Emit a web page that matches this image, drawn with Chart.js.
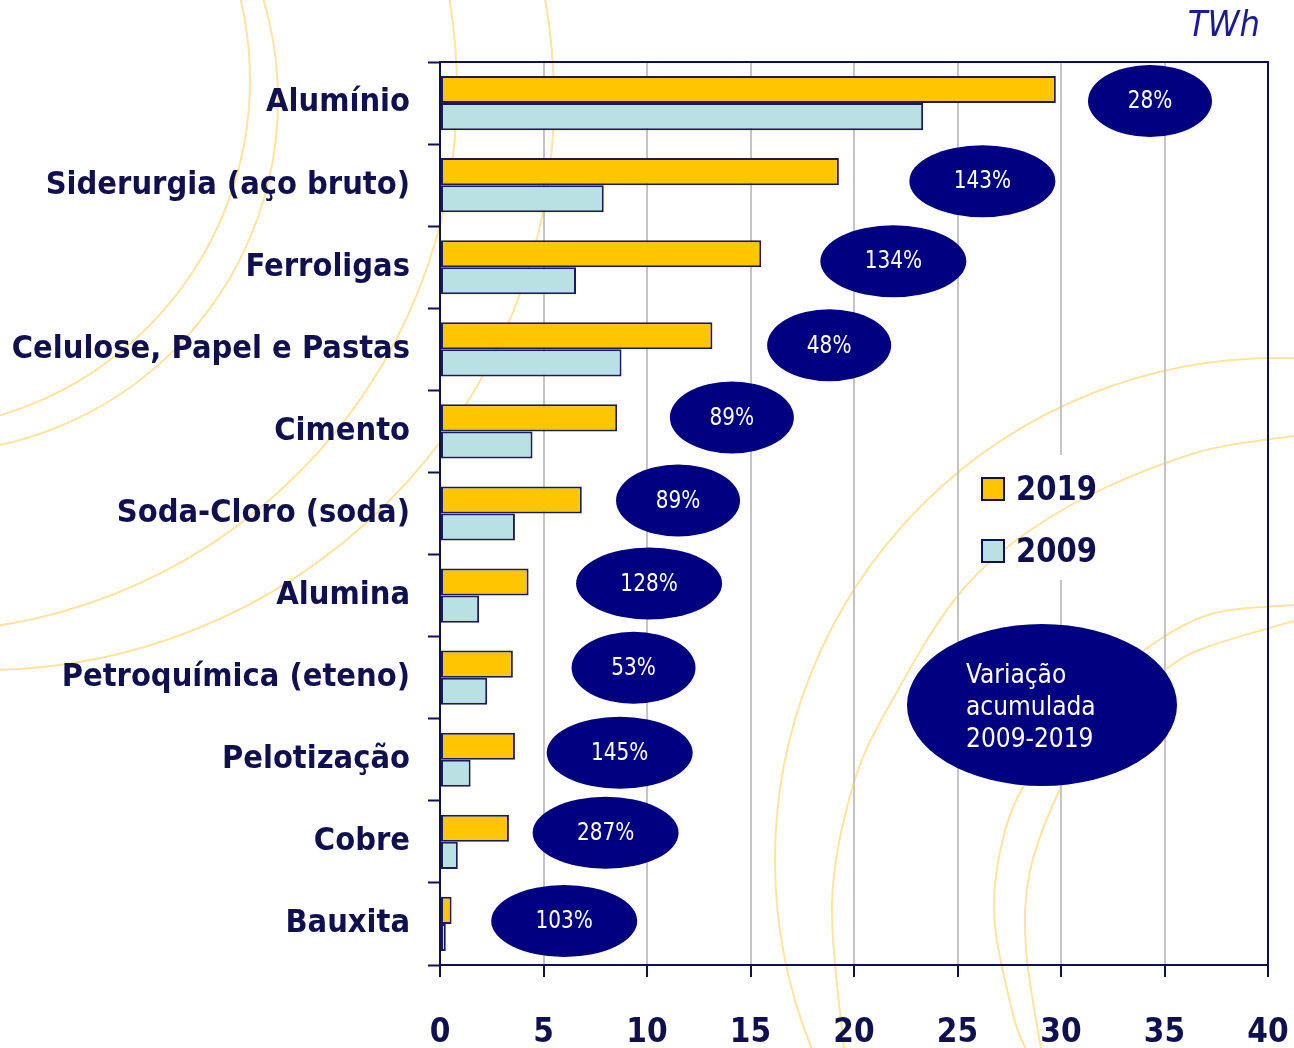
<!DOCTYPE html>
<html lang="pt">
<head>
<meta charset="utf-8">
<title>Consumo de eletricidade - indústria eletrointensiva</title>
<script src="https://cdn.jsdelivr.net/npm/chart.js@4.4.1/dist/chart.umd.min.js"></script>
<style>
    html, body { margin: 0; padding: 0; background: #ffffff; }
    #grafico { display: block; }
</style>
</head>
<body>
<canvas id="grafico" width="1294" height="1048"></canvas>
<script>
// dados (TWh)
const categorias = ['Alumínio', 'Siderurgia (aço bruto)', 'Ferroligas', 'Celulose, Papel e Pastas', 'Cimento',
    'Soda-Cloro (soda)', 'Alumina', 'Petroquímica (eteno)', 'Pelotização', 'Cobre', 'Bauxita'];
const consumo2019 = [29.75, 19.27, 15.52, 13.16, 8.56, 6.85, 4.28, 3.52, 3.62, 3.33, 0.56];
const consumo2009 = [23.34, 7.91, 6.57, 8.77, 4.47, 3.62, 1.89, 2.28, 1.48, 0.86, 0.28];
const variacao = ['28%', '143%', '134%', '48%', '89%', '89%', '128%', '53%', '145%', '287%', '103%'];
const anos = ['2019', '2009'];

// onde ficam os balões de variação (x em TWh, deslocamento vertical em px)
const baloesX = [34.3, 26.2, 21.9, 18.8, 14.1, 11.5, 10.1, 9.35, 8.68, 8.0, 6.0];
const baloesDy = [-2, -4, -6, -4, -14, -13, -12, -10, -7, -9, -3];

const AZUL = '#101050';
const MARINHO = '#000080';
const AMARELO = '#FFC600';
const AZUL_CLARO = '#B9E0E3';
const ARCO = '#FFE3A0';
const FONTE = "'DejaVu Sans Condensed', 'DejaVu Sans', sans-serif";

// arcos decorativos do fundo
function desenharArcos(ctx) {
    ctx.save();
    ctx.strokeStyle = ARCO;
    ctx.lineWidth = 2;
    [[-100, 80, 350], [-75, 100, 353], [-85, 90, 542], [-16, 100, 570], [1277, 860, 502]].forEach(([cx, cy, r]) => {
        ctx.beginPath();
        ctx.arc(cx, cy, r, 0, Math.PI * 2);
        ctx.stroke();
    });
    const curvas = [
        [[1294, 436], [1192, 454], [1064, 509], [965, 587], [889, 706], [852, 789], [832, 903], [844, 1049]],
        [[1294, 605], [1211, 614], [1143, 651], [1080, 710], [1022, 789], [999, 857], [995, 926], [1014, 1018], [1026, 1049]],
        [[1294, 621], [1207, 647], [1166, 669], [1100, 720], [1060, 789], [1030, 871], [1026, 949], [1041, 1049]]
    ];
    curvas.forEach(pts => {
        ctx.beginPath();
        ctx.moveTo(pts[0][0], pts[0][1]);
        for (let i = 0; i < pts.length - 1; i++) {
            const p0 = pts[Math.max(i - 1, 0)], p1 = pts[i], p2 = pts[i + 1], p3 = pts[Math.min(i + 2, pts.length - 1)];
            ctx.bezierCurveTo(
                p1[0] + (p2[0] - p0[0]) / 6, p1[1] + (p2[1] - p0[1]) / 6,
                p2[0] - (p3[0] - p1[0]) / 6, p2[1] - (p3[1] - p1[1]) / 6,
                p2[0], p2[1]);
        }
        ctx.stroke();
    });
    ctx.restore();
}

// texto um pouco mais estreito, como a fonte original
function textoEstreito(ctx, txt, x, y, escala) {
    ctx.save();
    ctx.translate(x, y);
    ctx.scale(escala, 1);
    ctx.fillText(txt, 0, 0);
    ctx.restore();
}

const caixaLegenda = { x: 975, y: 455, w: 135, h: 125 };

const pluginFundo = {
    id: 'fundo',
    beforeDraw(chart) {
        desenharArcos(chart.ctx);
    },
    beforeDatasetsDraw(chart) {
        const { ctx, chartArea: a } = chart;
        // caixa branca da legenda (interrompe as grades)
        ctx.save();
        ctx.fillStyle = '#ffffff';
        ctx.fillRect(caixaLegenda.x, caixaLegenda.y, caixaLegenda.w, caixaLegenda.h);
        ctx.beginPath();
        ctx.rect(caixaLegenda.x, caixaLegenda.y, caixaLegenda.w, caixaLegenda.h);
        ctx.clip();
        desenharArcos(ctx);
        ctx.restore();

        // moldura superior e direita
        ctx.save();
        ctx.strokeStyle = AZUL;
        ctx.lineWidth = 2;
        ctx.beginPath();
        ctx.moveTo(a.left, a.top);
        ctx.lineTo(a.right, a.top);
        ctx.lineTo(a.right, a.bottom);
        ctx.stroke();
        ctx.restore();
    }
};

const pluginBaloes = {
    id: 'baloes',
    afterDatasetsDraw(chart) {
        const { ctx, scales: { x, y } } = chart;
        ctx.save();
        ctx.font = '24px ' + FONTE;
        ctx.textAlign = 'center';
        ctx.textBaseline = 'middle';
        variacao.forEach((txt, i) => {
            const cx = x.getPixelForValue(baloesX[i]);
            const cy = y.getPixelForValue(i) + baloesDy[i];
            const rx = 29 + 11 * txt.length;
            ctx.fillStyle = MARINHO;
            ctx.beginPath();
            ctx.ellipse(cx, cy, rx, 36, 0, 0, Math.PI * 2);
            ctx.fill();
            ctx.fillStyle = '#ffffff';
            textoEstreito(ctx, txt, cx, cy + 1, 0.93);
        });

        // balão explicativo
        ctx.fillStyle = MARINHO;
        ctx.beginPath();
        ctx.ellipse(1042, 705, 135, 81, 0, 0, Math.PI * 2);
        ctx.fill();
        ctx.fillStyle = '#ffffff';
        ctx.textAlign = 'left';
        ctx.font = '26px ' + FONTE;
        ['Variação', 'acumulada', '2009-2019'].forEach((linha, k) => {
            textoEstreito(ctx, linha, 966, 676 + k * 32, 1.0);
        });

        // legenda
        ctx.font = 'bold 34px ' + FONTE;
        chart.data.datasets.forEach((ds, k) => {
            const yy = 489 + k * 62;
            ctx.fillStyle = ds.backgroundColor;
            ctx.fillRect(982, yy - 11, 22, 22);
            ctx.strokeStyle = AZUL;
            ctx.lineWidth = 2;
            ctx.strokeRect(982, yy - 11, 22, 22);
            ctx.fillStyle = AZUL;
            textoEstreito(ctx, ds.label, 1016, yy + 2, 0.95);
        });

        // unidade
        ctx.font = 'italic 36px ' + FONTE;
        ctx.fillStyle = '#1a1a96';
        ctx.textAlign = 'right';
        ctx.fillText('TWh', 1260, 27);
        ctx.restore();
    }
};

new Chart(document.getElementById('grafico'), {
    type: 'bar',
    data: {
        labels: categorias,
        datasets: [
            { label: anos[0], data: consumo2019, backgroundColor: AMARELO },
            { label: anos[1], data: consumo2009, backgroundColor: AZUL_CLARO }
        ]
    },
    options: {
        indexAxis: 'y',
        responsive: false,
        animation: false,
        layout: { padding: { top: 62, right: 0, left: 0, bottom: 0 } },
        datasets: {
            bar: {
                barPercentage: 1,
                categoryPercentage: 0.66,
                borderColor: '#1a1a5c',
                borderWidth: 2,
                borderSkipped: false
            }
        },
        plugins: {
            legend: { display: false },
            tooltip: { enabled: false }
        },
        scales: {
            x: {
                min: 0,
                max: 40,
                ticks: { stepSize: 5, color: AZUL, padding: 37, font: { family: FONTE, size: 33, weight: 'bold' } },
                grid: { color: '#c4c4c4', lineWidth: 2, tickLength: 12, tickColor: AZUL, tickWidth: 2 },
                border: { color: AZUL, width: 2 },
                afterFit: s => { s.height = 83; s.paddingRight = 26; }
            },
            y: {
                ticks: { color: AZUL, padding: 18, font: { family: FONTE, size: 32.3, weight: 'bold' } },
                grid: { drawOnChartArea: false, tickLength: 12, tickColor: AZUL, tickWidth: 2 },
                border: { color: AZUL, width: 2 },
                afterFit: s => { s.width = 440; }
            }
        }
    },
    plugins: [pluginFundo, pluginBaloes]
});
</script>
</body>
</html>
